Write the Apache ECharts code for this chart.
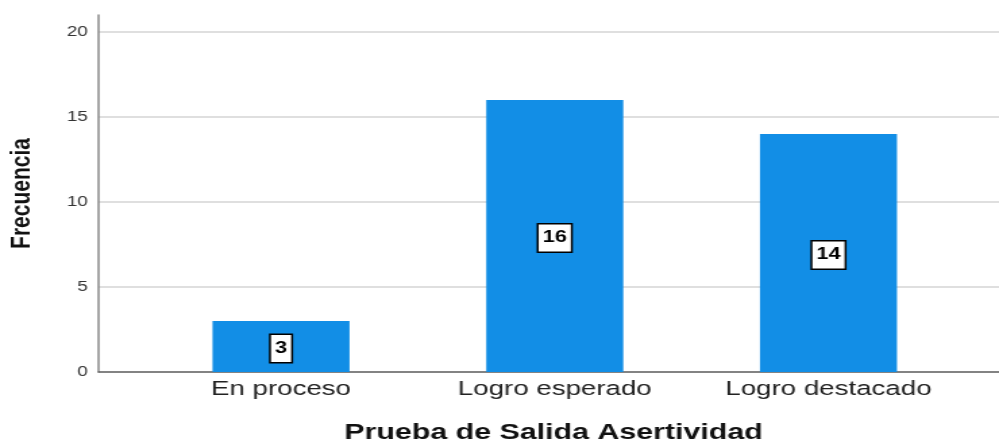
<!DOCTYPE html>
<html>
<head>
<meta charset="utf-8">
<script src="https://cdn.jsdelivr.net/npm/echarts@6/dist/echarts.min.js"></script>
<style>
html,body{margin:0;padding:0;background:#fff;overflow:hidden;}
#c{width:740px;height:443px;transform:scaleX(1.35);transform-origin:0 0;}
</style>
</head>
<body>
<div id="c"></div>
<script>
const categories = ['En proceso', 'Logro esperado', 'Logro destacado'];
const values = [3, 16, 14];
const yTickLabels = [0, 5, 10, 15, 20];
const xTitle = 'Prueba de Salida Asertividad';
const yTitle = 'Frecuencia';

const chart = echarts.init(document.getElementById('c'));
const font = '"Liberation Sans", Arial, sans-serif';
chart.setOption({
  backgroundColor: '#fff',
  animation: false,
  grid: { left: 73, right: 0, top: 15, bottom: 71, outerBoundsMode: 'none', containLabel: false },
  xAxis: {
    type: 'value',
    min: 1 / 3,
    max: 3.623,
    name: xTitle,
    nameLocation: 'middle',
    nameGap: 49,
    nameTextStyle: { fontFamily: font, fontSize: 22.5, fontWeight: 'bold', color: '#111', padding: [0, 0, 0, 7] },
    axisLine: { show: true, onZero: false, lineStyle: { color: '#666', width: 1.5 } },
    axisTick: { show: false },
    splitLine: { show: false },
    axisLabel: {
      customValues: categories.map((c, i) => i + 1),
      formatter: v => categories[Math.round(v) - 1] || '',
      fontFamily: font, fontSize: 20.5, color: '#222', margin: 7
    }
  },
  yAxis: {
    type: 'value',
    min: 0,
    max: 21,
    interval: 5,
    name: yTitle,
    nameLocation: 'middle',
    nameGap: 46,
    nameTextStyle: { fontFamily: font, fontSize: 21, fontWeight: 'bold', color: '#111' },
    axisLine: { show: true, lineStyle: { color: '#888', width: 1.5 } },
    axisTick: { show: false },
    splitLine: { show: true, showMaxLine: false, lineStyle: { color: '#d4d4d4', width: 1.5 } },
    axisLabel: {
      customValues: yTickLabels,
      fontFamily: font, fontSize: 14, color: '#333', margin: 8
    }
  },
  series: [{
    type: 'bar',
    barWidth: 101.5,
    data: values.map((v, i) => [i + 1, v]),
    itemStyle: { color: '#128ee6' },
    label: {
      show: true,
      position: 'inside',
      offset: [0, 2],
      formatter: p => String(p.value[1]),
      fontFamily: font, fontSize: 16, fontWeight: 'bold', color: '#000',
      backgroundColor: '#fff', borderColor: '#000', borderWidth: 1.5,
      padding: [6, 3, 5, 3], lineHeight: 16
    }
  }]
});
</script>
</body>
</html>
